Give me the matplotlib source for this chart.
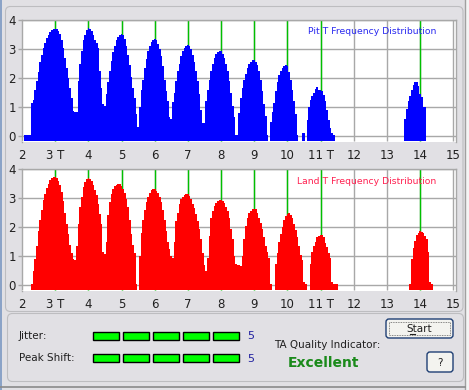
import matplotlib
matplotlib.use('Agg')
import matplotlib.pyplot as plt
from matplotlib.patches import FancyBboxPatch, Rectangle

W, H, DPI = 469, 390, 100

# ---------------- data ----------------
BIN = 0.05
X_TICKS = [2, 3, 4, 5, 6, 7, 8, 9, 10, 11, 12, 13, 14, 15]
X_TICK_LABELS = ['2', '3 T', '4', '5', '6', '7', '8', '9', '10', '11 T', '12', '13', '14', '15']
Y_TICKS = [0, 1, 2, 3, 4]
GREEN_T = [3, 4, 5, 6, 7, 8, 9, 10, 11, 14]

PIT_STARTS = [2.10, 3.70, 4.55, 5.55, 6.55, 7.55, 8.55, 9.50, 10.45, 13.55]
PIT_3T = [0.03, 0.04, 0.04, 0.04, 1.15, 1.25, 1.58, 1.9, 2.2, 2.55, 2.8, 3.02, 3.2, 3.37, 3.48, 3.6,
          3.66, 3.7, 3.7, 3.68, 3.62, 3.52, 3.3, 3.05, 2.7, 2.35, 2.0, 1.65, 1.3, 0.88, 0.85, 0.85]
PIT_4T = [1.9, 2.5, 2.95, 3.3, 3.5, 3.65, 3.72, 3.7, 3.62, 3.5, 3.3, 3.2, 3.05, 2.25, 1.65, 1.1, 1.05]
PIT_5T = [1.45, 1.85, 2.25, 2.6, 2.9, 3.12, 3.3, 3.42, 3.5, 3.53, 3.48, 3.35, 3.1, 2.8, 2.45, 2.05,
          1.65, 1.3, 0.75, 0.3]
PIT_6T = [1.0, 1.6, 1.95, 2.35, 2.65, 2.95, 3.12, 3.25, 3.32, 3.36, 3.3, 3.18, 3.0, 2.75, 2.4, 1.95,
          1.55, 1.2, 0.65, 0.6]
PIT_7T = [1.16, 1.5, 1.9, 2.25, 2.5, 2.75, 2.92, 3.05, 3.12, 3.15, 3.1, 3.0, 2.8, 2.55, 2.25, 1.9,
          1.45, 0.9, 0.45, 0.45]
PIT_8T = [1.22, 1.6, 1.95, 2.25, 2.5, 2.7, 2.82, 2.9, 2.95, 2.92, 2.82, 2.7, 2.5, 2.25, 1.9, 1.5,
          1.05, 0.65, 0.03, 0.03]
PIT_9T = [0.8, 1.3, 1.65, 1.95, 2.15, 2.35, 2.48, 2.57, 2.62, 2.62, 2.55, 2.45, 2.25, 1.95, 1.55,
          1.1, 0.7, 0.05, 0.0]
PIT_10T = [0.5, 0.85, 1.15, 1.55, 1.85, 2.1, 2.25, 2.35, 2.42, 2.45, 2.4, 2.2, 1.95, 1.6, 1.2, 0.75,
           0.05, 0.0, 0.0]
PIT_11T = [0.1, 0.1, 0.0, 0.55, 1.0, 1.25, 1.4, 1.5, 1.62, 1.68, 1.6, 1.6, 1.55, 1.42, 1.2, 0.9,
           0.55, 0.27, 0.1, 0.05]
PIT_14T = [0.6, 0.95, 1.2, 1.38, 1.6, 1.75, 1.88, 1.85, 1.72, 1.45, 1.35, 1.0, 1.0]
PIT_PEAKS = [PIT_3T, PIT_4T, PIT_5T, PIT_6T, PIT_7T, PIT_8T, PIT_9T, PIT_10T, PIT_11T, PIT_14T]

LAND_STARTS = [2.30, 3.65, 4.55, 5.55, 6.60, 7.60, 8.65, 9.65, 10.70, 13.70]
LAND_3T = [0.05, 0.49, 0.89, 1.35, 1.86, 2.26, 2.6, 2.94, 3.15, 3.34, 3.48, 3.62, 3.68, 3.73, 3.72,
           3.68, 3.6, 3.45, 3.2, 2.9, 2.5, 2.1, 1.75, 1.4, 1.1, 0.9, 0.85]
LAND_4T = [1.35, 2.1, 2.7, 3.05, 3.38, 3.55, 3.65, 3.68, 3.65, 3.58, 3.45, 3.28, 3.1, 2.8, 2.45, 2.1,
           1.15, 1.06]
LAND_5T = [1.5, 2.4, 2.85, 3.15, 3.3, 3.4, 3.46, 3.5, 3.5, 3.42, 3.3, 3.17, 2.95, 2.7, 2.25, 1.75,
           1.4, 1.1, 0.05, 0.0]
LAND_6T = [1.0, 1.8, 2.25, 2.6, 2.85, 3.05, 3.17, 3.27, 3.31, 3.31, 3.25, 3.17, 3.05, 2.85, 2.6,
           2.25, 1.85, 1.5, 1.25, 1.0, 0.95]
LAND_7T = [1.5, 2.2, 2.5, 2.8, 2.95, 3.05, 3.1, 3.13, 3.14, 3.08, 2.95, 2.8, 2.65, 2.45, 2.2, 1.95,
           1.6, 1.1, 0.7, 0.5]
LAND_8T = [0.95, 1.7, 2.3, 2.55, 2.72, 2.82, 2.9, 2.93, 2.94, 2.9, 2.83, 2.7, 2.55, 2.3, 1.95, 1.6,
           1.0, 0.72, 0.7, 0.68, 0.66]
LAND_9T = [1.0, 1.6, 2.05, 2.3, 2.47, 2.55, 2.62, 2.64, 2.62, 2.5, 2.32, 2.15, 1.92, 1.65, 1.35,
           1.15, 0.94, 0.05]
LAND_10T = [0.72, 1.1, 1.5, 1.75, 2.0, 2.25, 2.38, 2.45, 2.48, 2.4, 2.3, 2.12, 1.9, 1.65, 1.35,
            1.05, 0.85, 0.1, 0.05]
LAND_11T = [0.72, 1.15, 1.35, 1.5, 1.65, 1.7, 1.72, 1.74, 1.65, 1.45, 1.3, 1.1, 0.95, 0.1, 0.05,
            0.05, 0.05]
LAND_14T = [0.05, 0.89, 1.29, 1.52, 1.74, 1.8, 1.86, 1.83, 1.8, 1.7, 1.6, 1.15, 0.1, 0.03]
LAND_PEAKS = [LAND_3T, LAND_4T, LAND_5T, LAND_6T, LAND_7T, LAND_8T, LAND_9T, LAND_10T, LAND_11T, LAND_14T]

JITTER_LEVEL = 5
PEAK_SHIFT_LEVEL = 5
QUALITY = 'Excellent'

# ---------------- styling ----------------
BG = '#E1E0E4'
GRID = '#A8A8A8'
GREEN = '#00C000'
FONT = 'DejaVu Sans'
TXT = '#202020'
YMIN = -0.2
BAR_BOTTOM = -0.16

fig = plt.figure(figsize=(W / DPI, H / DPI), dpi=DPI)
fig.patch.set_facecolor(BG)

bg = fig.add_axes([0, 0, 1, 1], zorder=0)
bg.set_xlim(0, W)
bg.set_ylim(H, 0)
bg.axis('off')
bg.patch.set_alpha(0)


def frac(left, top, right, bottom):
    return [left / W, 1 - bottom / H, (right - left) / W, (bottom - top) / H]


# window borders / group boxes
bg.add_patch(Rectangle((0, 0), 1.5, H, color='#8BA3C7', lw=0))
bg.add_patch(Rectangle((465, 0), 4, H, color='#F4F4F4', lw=0))
bg.plot([465, 465], [0, H], color='#A0A0A0', lw=1)
bg.plot([0, 465], [386.5, 386.5], color='#8A8A8A', lw=1.2)
bg.add_patch(FancyBboxPatch((5.5, 6.5), 457.5, 305, boxstyle='round,pad=0,rounding_size=5',
                            fc='none', ec='#BDBDC0', lw=0.8))
bg.add_patch(FancyBboxPatch((7.5, 313.5), 456, 68, boxstyle='round,pad=0,rounding_size=5',
                            fc='none', ec='#BDBDC0', lw=0.8))


def draw_chart(rect, starts, peaks, color):
    ax = fig.add_axes(frac(*rect), zorder=2)
    ax.set_facecolor('white')
    ax.set_xlim(2, 15.08)
    ax.set_ylim(YMIN, 4)
    for x in X_TICKS[1:]:
        ax.axvline(x, color=GRID, lw=1, zorder=1)
    for y in Y_TICKS:
        ax.axhline(y, color=GRID, lw=1, zorder=1)
    for x in GREEN_T:
        ax.axvline(x, color=GREEN, lw=1, zorder=2)
    xs, hs = [], []
    for s, vals in zip(starts, peaks):
        for i, v in enumerate(vals):
            if v > 0:
                xs.append(s + i * BIN)
                hs.append(v - BAR_BOTTOM)
    ax.bar(xs, hs, bottom=BAR_BOTTOM, width=BIN * 1.02, color=color, lw=0, zorder=3,
           antialiased=False)
    ax.plot([2, 15.08], [BAR_BOTTOM + 0.01, BAR_BOTTOM + 0.01], color='white', lw=0.72,
            ls=(0, (1, 1)), zorder=4)
    ax.set_xticks(X_TICKS)
    ax.set_xticklabels(X_TICK_LABELS, fontsize=8.5, color=TXT, family=FONT)
    ax.set_yticks(Y_TICKS)
    ax.set_yticklabels([str(v) for v in Y_TICKS], fontsize=8.5, color=TXT, family=FONT)
    ax.tick_params(axis='x', length=0, pad=5)
    ax.tick_params(axis='y', length=3, pad=1.5, color=GRID, width=1)
    for side in ['left', 'top', 'right']:
        ax.spines[side].set_color(GRID)
        ax.spines[side].set_linewidth(1)
    ax.spines['bottom'].set_visible(False)
    return ax


ax1 = draw_chart((22, 20, 456, 142), PIT_STARTS, PIT_PEAKS, '#0000FF')
ax2 = draw_chart((22, 169, 456, 291), LAND_STARTS, LAND_PEAKS, '#FF0000')
fig.text(436 / W, 1 - 32 / H, 'Pit T Frequency Distribution', color='#2828F0', fontsize=6.7,
         family=FONT, ha='right', va='center', zorder=10)
fig.text(436 / W, 1 - 181 / H, 'Land T Frequency Distribution', color='#FF2050', fontsize=6.7,
         family=FONT, ha='right', va='center', zorder=10)

# ---------------- bottom panel ----------------
bg.text(19, 336, 'Jitter:', fontsize=7.5, family=FONT, color=TXT, va='center', ha='left')
bg.text(19, 358, 'Peak Shift:', fontsize=7.5, family=FONT, color=TXT, va='center', ha='left')
for row_y, level in [(331.5, JITTER_LEVEL), (354, PEAK_SHIFT_LEVEL)]:
    for k in range(level):
        bg.add_patch(Rectangle((92.7 + k * 30, row_y), 26.5, 8, fc='#00FF00', ec='black', lw=1))
    bg.text(247, row_y + 4.5, str(level), fontsize=8, family=FONT, color='#2020A0',
            va='center', ha='left')
bg.text(274, 345, 'TA Quality Indicator:', fontsize=7.5, family=FONT, color=TXT,
        va='center', ha='left')
bg.text(323.5, 363, QUALITY, fontsize=10, family=FONT, weight='bold', color='#1A8A1A',
        va='center', ha='center')

# buttons
for (l, t, r, b, label) in [(386, 319, 453, 338, 'Start'), (427, 352, 453, 372, '?')]:
    bg.add_patch(FancyBboxPatch((l, t), r - l, b - t, boxstyle='round,pad=0,rounding_size=3',
                                fc='#F3F3EF', ec='#1F3F74', lw=1))
    bg.text((l + r) / 2, (t + b) / 2 + 0.5, label, fontsize=7.5, family=FONT, color=TXT,
            va='center', ha='center')
bg.add_patch(Rectangle((389, 322), 61, 13, fc='none', ec='#606060', lw=0.6, ls=(0, (1, 1))))
bg.plot([409.5, 414.5], [334, 334], color=TXT, lw=0.8)

fig.savefig('out.png', dpi=DPI, facecolor=fig.get_facecolor())
